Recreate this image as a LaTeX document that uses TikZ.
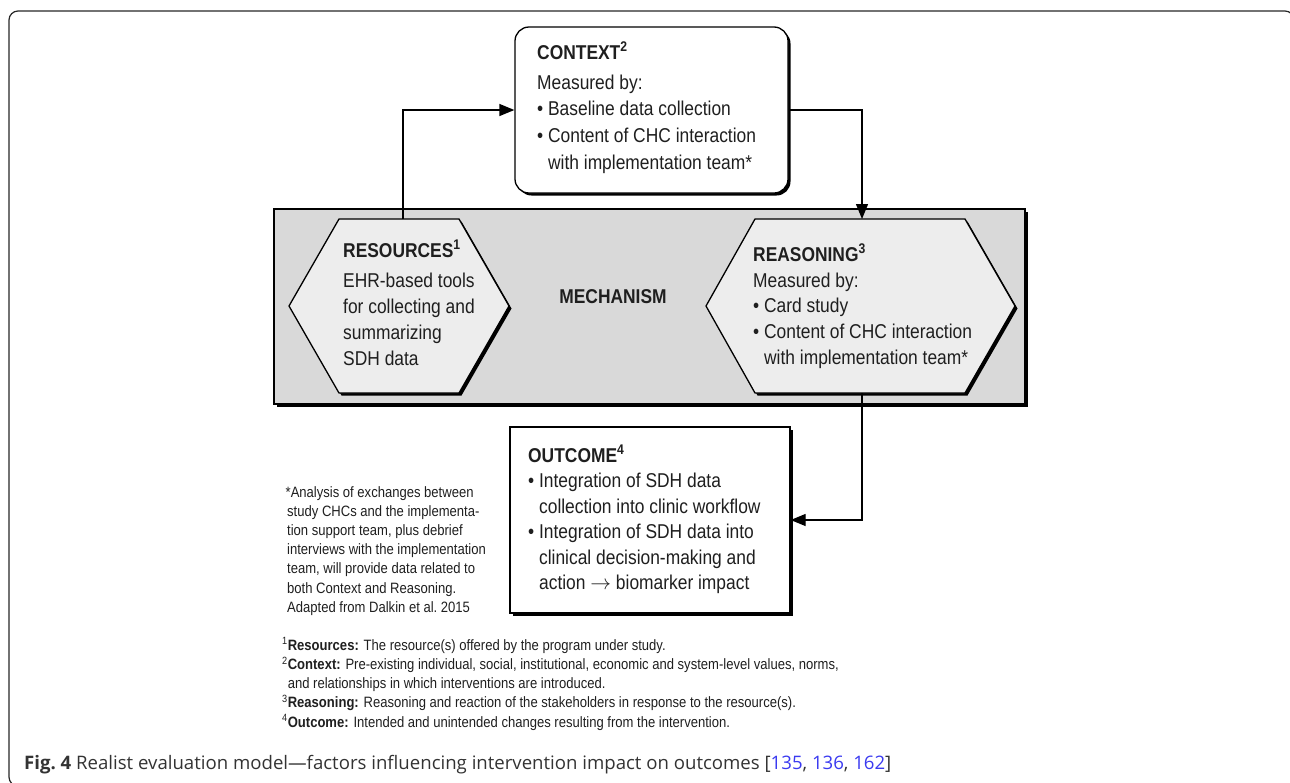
\documentclass[tikz,border=0pt]{standalone}
\usepackage{fontspec}
\setmainfont{Liberation Sans}
\newfontfamily\narrowfont[FakeStretch=0.87]{Liberation Sans}
\newfontfamily\capfont{Open Sans}
\usetikzlibrary{arrows.meta,shadows}
\definecolor{mechgray}{HTML}{D9D9D9}
\definecolor{hexgray}{HTML}{EDEDED}
\definecolor{capgray}{HTML}{333333}
\definecolor{citeblue}{HTML}{3A3AF0}
\newcommand{\textlines}[5]{%
  \foreach \ln [count=\i] in {#5} {\node[txt] (#1-\i) at (#2, {#3+(\i-1)*#4}) {\ln};}}
\newcommand{\notelines}[5]{%
  \foreach \ln [count=\i] in {#5} {\node[note] (#1-\i) at (#2, {#3+(\i-1)*#4}) {\ln};}}
\begin{document}
\begin{tikzpicture}[x=1pt,y=-1pt,
  frame/.style={draw=black!85, line width=1.2pt, rounded corners=9pt},
  shad/.style={drop shadow={shadow xshift=2.5pt, shadow yshift=-2.5pt, opacity=1, fill=black}},
  boxline/.style={draw=black, line width=1.3pt},
  conn/.style={draw=black, line width=1.3pt, -{Triangle[length=15pt,width=12pt]}},
  txt/.style={font=\narrowfont\fontsize{20}{24}\selectfont, anchor=base west, inner sep=0pt, text=black!88},
  ttl/.style={txt, font=\narrowfont\bfseries\fontsize{20}{24}\selectfont},
  note/.style={font=\narrowfont\fontsize{15}{18}\selectfont, anchor=base west, inner sep=0pt, text=black!88},
  capstyle/.style={font=\capfont\fontsize{18.6}{22}\selectfont, anchor=base west, inner sep=0pt, text=capgray}]
\useasboundingbox (0,0) rectangle (1290,782);
% outer frame
\draw[frame] (9,11) rectangle (1294,786);

% mechanism box
\node[boxline, shad, fill=mechgray, minimum width=751pt, minimum height=195pt, inner sep=0pt] (mech) at (649.5,306.5) {};
\node[ttl, anchor=center] (mechlbl) at (613,297) {MECHANISM};

% resources hexagon
\path[boxline, shad, fill=hexgray] (289,306) -- (339,219) -- (459,219) -- (509,306) -- (459,393) -- (339,393) -- cycle;
\coordinate (res-top) at (403,219);
\node[ttl] (restitle) at (343,257) {RESOURCES\textsuperscript{1}};
\textlines{res}{343}{287}{26.3}{{EHR-based tools},{for collecting and},{summarizing},{SDH data}}

% reasoning hexagon
\path[boxline, shad, fill=hexgray] (706,306) -- (755,219) -- (965,219) -- (1015,306) -- (965,393) -- (755,393) -- cycle;
\coordinate (rsn-top) at (862,219);
\coordinate (rsn-bot) at (862,393);
\node[ttl] (rsntitle) at (753,261) {REASONING\textsuperscript{3}};
\textlines{rsn}{753}{287}{25.7}{{Measured by:},{\textbullet\ Card study},{\textbullet\ Content of CHC interaction},{\phantom{\textbullet\ }with implementation team*}}

% context box
\node[boxline, shad, fill=white, rounded corners=14pt, minimum width=273pt, minimum height=166pt, inner sep=0pt] (ctx) at (651.5,110) {};
\node[ttl] (ctxtitle) at (537,59) {CONTEXT\textsuperscript{2}};
\textlines{ctx}{537}{89}{26.8}{{Measured by:},{\textbullet\ Baseline data collection},{\textbullet\ Content of CHC interaction},{\phantom{\textbullet\ }with implementation team*}}

% outcome box
\node[boxline, shad, fill=white, minimum width=280pt, minimum height=186pt, inner sep=0pt] (out) at (650,520) {};
\node[ttl] (outtitle) at (528,462) {OUTCOME\textsuperscript{4}};
\textlines{out}{528}{487.5}{25.6}{{\textbullet\ Integration of SDH data},{\phantom{\textbullet\ }collection into clinic workflow},{\textbullet\ Integration of SDH data into},{\phantom{\textbullet\ }clinical decision-making and},{\phantom{\textbullet\ }action $\rightarrow$ biomarker impact}}

% connectors
\draw[conn] (res-top) |- (ctx.west);
\draw[conn] (ctx.east) -| (rsn-top);
\draw[conn] (rsn-bot) |- (out.east);

% asterisk note
\notelines{ast}{285.5}{497}{19.2}{{*Analysis of exchanges between},{\hspace{1.5pt}study CHCs and the implementa-},{\hspace{1.5pt}tion support team, plus debrief},{\hspace{1.5pt}interviews with the implementation},{\hspace{1.5pt}team, will provide data related to},{\hspace{1.5pt}both Context and Reasoning.},{\hspace{1.5pt}Adapted from Dalkin et al.\ 2015}}

% footnotes
\notelines{fn}{282}{650}{19.3}{{\textsuperscript{1}\textbf{Resources:} The resource(s) offered by the program under study.},{\textsuperscript{2}\textbf{Context:} Pre-existing individual, social, institutional, economic and system-level values, norms,},{\phantom{\textsuperscript{2}}and relationships in which interventions are introduced.},{\textsuperscript{3}\textbf{Reasoning:} Reasoning and reaction of the stakeholders in response to the resource(s).},{\textsuperscript{4}\textbf{Outcome:} Intended and unintended changes resulting from the intervention.}}

% caption
\node[capstyle] (cap) at (24,769) {\textbf{Fig.\ 4} Realist evaluation model—factors influencing intervention impact on outcomes [\textcolor{citeblue}{135}, \textcolor{citeblue}{136}, \textcolor{citeblue}{162}]};
\end{tikzpicture}
\end{document}
